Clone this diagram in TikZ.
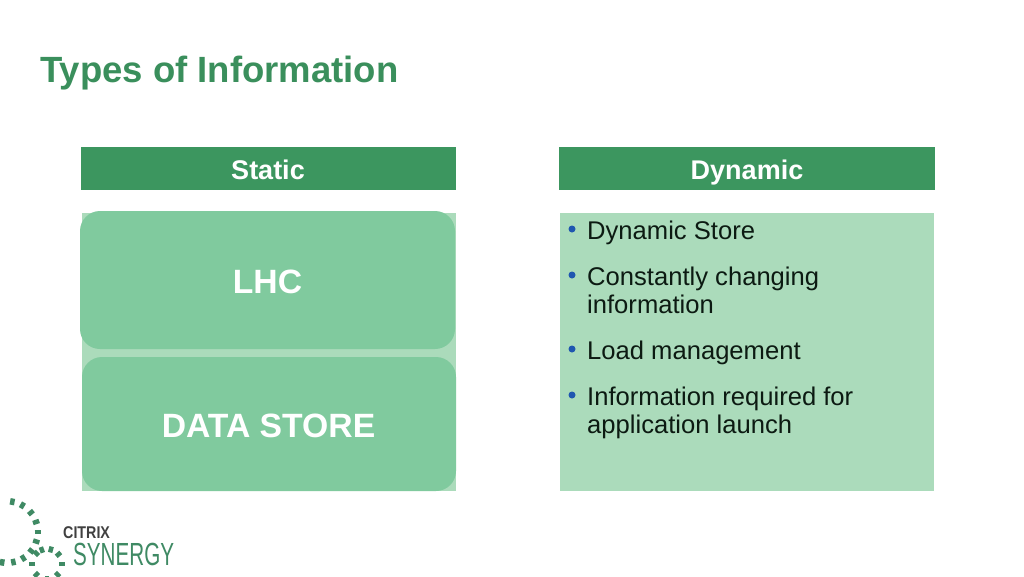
\documentclass[tikz,border=0pt]{standalone}
\usepackage{fontspec}
\usepackage{graphicx}
\setmainfont{Liberation Sans}
\definecolor{hdr}{HTML}{3C965F}
\definecolor{pale}{HTML}{ABDBBB}
\definecolor{mid}{HTML}{80CA9E}
\definecolor{bul}{HTML}{1F57B0}
\definecolor{ttl}{HTML}{3A8F5C}
\definecolor{logo}{HTML}{3F8A64}
\definecolor{txt}{HTML}{0C1A12}
\tikzset{
  headtext/.style={anchor=base,text=white,inner sep=0pt,font=\fontsize{27}{30}\selectfont\bfseries},
  roundbox/.style={fill=mid,rounded corners=20pt},
  bigtext/.style={anchor=base,text=white,font=\fontsize{33.7}{38}\selectfont\bfseries,inner sep=0pt},
  bullettext/.style={anchor=base west,inner sep=0pt,text=txt,font=\fontsize{25.6}{28}\selectfont},
  bulletdot/.style={fill=bul,circle,inner sep=0pt,minimum size=7pt},
  logodash/.style={draw=logo,line width=4.5pt}
}
\begin{document}
\begin{tikzpicture}[x=1pt,y=-1pt]
\useasboundingbox (0,0) rectangle (1024,576);
\fill[white] (0,0) rectangle (1024,576);
\node[anchor=base west,inner sep=0pt,text=ttl,font=\fontsize{36.5}{40}\selectfont\bfseries] (title) at (40,82) {Types of Information};
\fill[hdr] (81,147) rectangle (456,190);
\node[headtext] (st) at (268,179) {Static};
\fill[hdr] (559,147) rectangle (935,190);
\node[headtext] (dy) at (747,179) {Dynamic};
\fill[pale] (82,213) rectangle (456,491);
\fill[pale] (560,213) rectangle (934,491);
\fill[roundbox] (80,211) rectangle (455,349);
\fill[roundbox] (82,357) rectangle (456,491);
\node[bigtext] (lhc) at (267.5,293) {LHC};
\node[bigtext] (ds) at (268.5,437) {DATA STORE};
\foreach \y/\t in {239/Dynamic Store,285/Constantly changing,313/information,359/Load management,405/Information required for,433/application launch}
  \node[bullettext] at (587,\y) {\t};
\foreach \y in {229,275,349,395}
  \node[bulletdot] at (572,\y) {};
% logo
\foreach \a in {-80,-60,-39,-19,0,18,38,58,78,99,120,140}
  \draw[logodash] ({7+27.5*cos(\a)},{532+27.5*sin(\a)}) -- ({7+34*cos(\a)},{532+34*sin(\a)});
\foreach \a in {-110,-75,-40,0,45,90,135,180,225}
  \draw[logodash] ({47+12*cos(\a)},{564+12*sin(\a)}) -- ({47+18*cos(\a)},{564+18*sin(\a)});
\node[anchor=base west,inner sep=0pt,text=black!75,font=\fontsize{17}{18}\selectfont\bfseries] (cx) at (63,538) {\scalebox{0.84}[1]{CITRIX}};
\node[anchor=base west,inner sep=0pt,text=logo,font=\fontsize{32}{32}\selectfont] (syn) at (73,565) {\scalebox{0.645}[1]{SYNERGY}};
\end{tikzpicture}
\end{document}
